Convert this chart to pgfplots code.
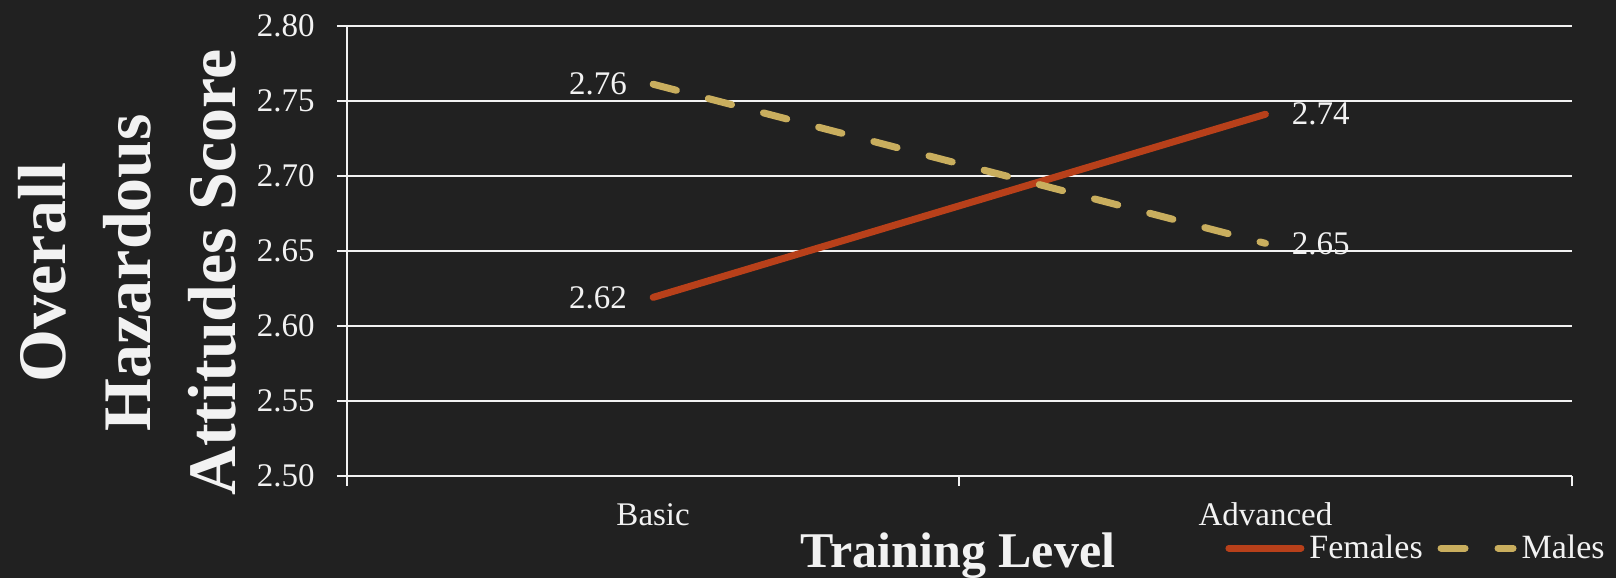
\documentclass[border=0pt]{standalone}
\usepackage{pgfplots}
\pgfplotsset{compat=1.18}
\usepackage{fontspec}
\setmainfont{Liberation Serif}
\definecolor{bgcol}{HTML}{212121}
\definecolor{txtcol}{HTML}{F2F2F2}
\definecolor{femcol}{HTML}{B8401A}
\definecolor{malecol}{HTML}{C9AE5E}
\begin{document}
\begin{tikzpicture}
\fill[bgcol] (0,0) rectangle (808bp,289bp);
\begin{axis}[
  at={(173.5bp,51bp)}, anchor=south west,
  scale only axis, width=612.3bp, height=225.15bp,
  xmin=0, xmax=2, ymin=2.5, ymax=2.8,
  axis x line*=bottom, axis y line*=left,
  axis line style={txtcol, line width=1bp},
  ytick={2.5,2.55,2.6,2.65,2.7,2.75,2.8},
  y tick label style={/pgf/number format/fixed, /pgf/number format/fixed zerofill, /pgf/number format/precision=2},
  /pgf/number format/assume math mode=true,
  xtick={0.5,1.5}, xticklabels={Basic,Advanced},
  minor xtick={0,1,2},
  tick align=outside,
  major tick length=5bp, minor tick length=5bp,
  tick style={txtcol, line width=1bp},
  every major x tick/.append style={draw=none},
  ymajorgrids, grid style={txtcol, line width=1bp},
  ticklabel style={font=\fontsize{16.5bp}{19bp}\selectfont, text=txtcol},
  yticklabel style={anchor=east, inner sep=0pt, xshift=-11bp},
  xticklabel style={anchor=base, inner sep=0pt, yshift=-19.5bp},
  xlabel={Training Level},
  xlabel style={at={(axis description cs:0.499,-0.2043)}, anchor=base, inner sep=0pt,
    font=\fontsize{25bp}{30bp}\selectfont\bfseries, text=txtcol},
  ylabel={Overall\\Hazardous\\Attitudes Score},
  ylabel style={at={(axis description cs:-0.1797,0.4517)}, anchor=center, align=center, inner sep=0pt,
    font=\fontsize{34bp}{42.5bp}\selectfont\bfseries, text=txtcol},
  legend columns=2,
  legend style={at={(axis description cs:0.717,-0.160)}, anchor=west, draw=none, fill=none,
    inner sep=0pt, font=\fontsize{17bp}{19bp}\selectfont, text=txtcol,
    nodes={inner sep=0pt},
    /tikz/every odd column/.append style={column sep=2.5bp},
    /tikz/every even column/.append style={column sep=7.4bp}},
  legend image code/.code={\draw[#1] (0bp,0bp) -- (36bp,0bp);},
  clip=false,
]
\addplot[femcol, line width=3.5bp, line cap=round] coordinates {(0.5,2.619) (1.5,2.741)};
\addlegendentry{Females}
\addplot[malecol, line width=3.5bp, line cap=round, dash pattern=on 12bp off 16.5bp] coordinates {(0.5,2.761) (1.5,2.655)};
\addlegendentry{Males}
\node[anchor=east, inner sep=0pt, xshift=-13bp, text=txtcol, font=\fontsize{16.5bp}{19bp}\selectfont] at (axis cs:0.5,2.761) {2.76};
\node[anchor=east, inner sep=0pt, xshift=-13bp, text=txtcol, font=\fontsize{16.5bp}{19bp}\selectfont] at (axis cs:0.5,2.619) {2.62};
\node[anchor=west, inner sep=0pt, xshift=13bp, text=txtcol, font=\fontsize{16.5bp}{19bp}\selectfont] at (axis cs:1.5,2.741) {2.74};
\node[anchor=west, inner sep=0pt, xshift=13bp, text=txtcol, font=\fontsize{16.5bp}{19bp}\selectfont] at (axis cs:1.5,2.655) {2.65};
\end{axis}
\pgfresetboundingbox
\useasboundingbox (0,0) rectangle (808bp,289bp);
\end{tikzpicture}
\end{document}
